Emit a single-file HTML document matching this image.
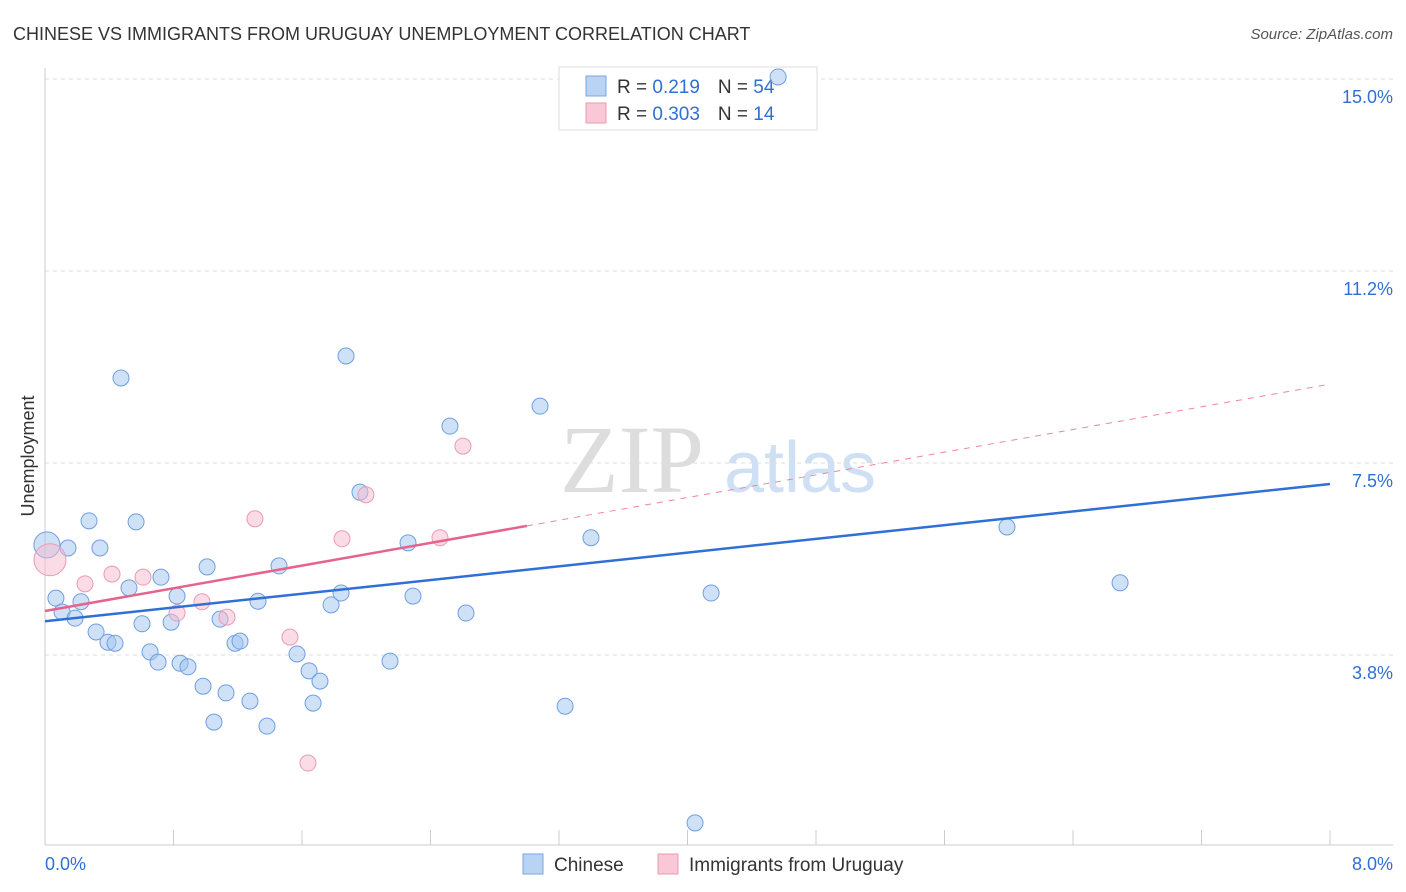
<!DOCTYPE html>
<html><head><meta charset="utf-8"><style>
body{margin:0;background:#fff;font-family:"Liberation Sans",sans-serif;}
svg{display:block}
</style></head><body>
<svg width="1406" height="892" xmlns="http://www.w3.org/2000/svg">
<text x="13" y="40" font-size="18" fill="#333">CHINESE VS IMMIGRANTS FROM URUGUAY UNEMPLOYMENT CORRELATION CHART</text>
<text x="1393" y="39" font-size="15" fill="#555" font-style="italic" text-anchor="end">Source: ZipAtlas.com</text>
<g><text x="632" y="492" font-size="96" fill="#ddd" font-family="Liberation Serif,serif" text-anchor="middle">ZIP</text><text x="800" y="492" font-size="72" fill="#cfe0f5" text-anchor="middle">atlas</text></g>
<g id="grid"></g>
<g id="axes"></g>
<g>
<rect x="559" y="67" width="258" height="63" fill="#fff" stroke="#ddd"/>
<rect x="586" y="76" width="20" height="20" fill="#b9d3f5" stroke="#7aa4e0"/>
<rect x="586" y="103" width="20" height="20" fill="#f9c7d6" stroke="#e99ab2"/>
<text x="617" y="93" font-size="19" fill="#333">R = <tspan fill="#2f6fd6"> 0.219</tspan><tspan dx="18">N = </tspan><tspan fill="#2f6fd6">54</tspan></text>
<text x="617" y="120" font-size="19" fill="#333">R = <tspan fill="#2f6fd6">0.303</tspan><tspan dx="18">N = </tspan><tspan fill="#2f6fd6"> 14</tspan></text>
</g>
<g id="marks"></g>
<text transform="translate(34,456) rotate(-90)" font-size="18" fill="#333" text-anchor="middle">Unemployment</text>
<g>
<rect x="523" y="854" width="20" height="20" fill="#b9d3f5" stroke="#7aa4e0"/>
<text x="554" y="871" font-size="19" fill="#333">Chinese</text>
<rect x="658" y="854" width="20" height="20" fill="#f9c7d6" stroke="#e99ab2"/>
<text x="689" y="871" font-size="19" fill="#333">Immigrants from Uruguay</text>
</g>
</svg>
<script>
const yTicks=[3.75,7.5,11.25,15];
const yTickLabels=["3.8%","7.5%","11.2%","15.0%"];
const xTicks=[0,0.8,1.6,2.4,3.2,4,4.8,5.6,6.4,7.2,8];
const chineseX=[0.012,0.143,0.068,0.106,0.187,0.224,0.274,0.342,0.318,0.392,0.436,0.473,0.523,0.567,0.604,0.654,0.704,0.722,0.785,0.822,0.841,0.890,0.984,1.009,1.052,1.090,1.127,1.183,1.214,1.276,1.326,1.382,1.457,1.569,1.644,1.669,1.712,1.781,1.843,1.874,1.961,2.148,2.260,2.291,2.521,2.621,3.082,3.238,3.399,4.047,4.147,5.989,6.693,4.564];
const chineseY=[5.90,5.84,4.86,4.59,4.47,4.79,6.37,5.84,4.20,4.00,3.98,9.16,5.06,6.35,4.36,3.81,3.61,5.27,4.39,4.90,3.59,3.52,3.14,5.47,2.44,4.45,3.01,3.98,4.02,2.85,4.80,2.36,5.49,3.77,3.44,2.81,3.24,4.73,4.96,9.59,6.93,3.63,5.94,4.90,8.22,4.57,8.61,2.75,6.04,0.47,4.96,6.25,5.16,15.04];
const uruguayX=[0.031,0.249,0.417,0.610,0.822,0.977,1.133,1.307,1.525,1.637,1.849,1.998,2.459,2.602];
const uruguayY=[5.61,5.14,5.33,5.27,4.57,4.79,4.49,6.41,4.10,1.64,6.02,6.88,6.04,7.83];
const chineseTrend=[4.41,7.09];
const uruguayTrend=[4.61,9.04];
const uruguaySolidEnd=3.0;

const NS="http://www.w3.org/2000/svg";
const xs=v=>45+v/8*1285;
const ys=v=>847-v*51.2;
function mk(parent,tag,attrs){const e=document.createElementNS(NS,tag);for(const k in attrs)e.setAttribute(k,attrs[k]);document.getElementById(parent).appendChild(e);return e;}
yTicks.forEach((t,i)=>{
 const l=mk('grid','line',{x1:45,x2:1393,y1:ys(t),y2:ys(t),stroke:'#ddd','stroke-dasharray':'4,4'});
 
 
 const tx=mk('grid','text',{x:1393,y:ys(t)+24,'font-size':18,fill:'#2f6fd6','text-anchor':'end'});
 tx.textContent=yTickLabels[i];
 
 
});
let a=mk('axes','line',{x1:45,x2:45,y1:68,y2:845,stroke:'#ccc'});


a=mk('axes','line',{x1:45,x2:1393,y1:845,y2:845,stroke:'#ccc'});


xTicks.forEach(t=>{const l=mk('axes','line',{x1:xs(t),x2:xs(t),y1:830,y2:845,stroke:'#ccc'});
 
 });
let t=mk('axes','text',{x:45,y:870,'font-size':18,fill:'#2f6fd6'});t.textContent='0.0%';


t=mk('axes','text',{x:1393,y:870,'font-size':18,fill:'#2f6fd6','text-anchor':'end'});t.textContent='8.0%';



chineseX.forEach((x,i)=>{const c=mk('marks','circle',{cx:xs(x),cy:ys(chineseY[i]),r:i==0?13:8,fill:'rgba(160,195,240,0.5)',stroke:'#6f9fe0','stroke-width':1});
 
 });
uruguayX.forEach((x,i)=>{const c=mk('marks','circle',{cx:xs(x),cy:ys(uruguayY[i]),r:i==0?16:8,fill:'rgba(248,185,205,0.5)',stroke:'#eb9ab4','stroke-width':1});
 
 });
const uAt=x=>uruguayTrend[0]+(uruguayTrend[1]-uruguayTrend[0])*x/8;
let l=mk('marks','line',{x1:xs(uruguaySolidEnd),y1:ys(uAt(uruguaySolidEnd)),x2:xs(8),y2:ys(uruguayTrend[1]),stroke:'#e8889f','stroke-width':1,'stroke-dasharray':'6,6'});


l=mk('marks','line',{x1:xs(0),y1:ys(uruguayTrend[0]),x2:xs(uruguaySolidEnd),y2:ys(uAt(uruguaySolidEnd)),stroke:'#e4648c','stroke-width':2.5});


l=mk('marks','line',{x1:xs(0),y1:ys(chineseTrend[0]),x2:xs(8),y2:ys(chineseTrend[1]),stroke:'#2f6fd6','stroke-width':2.5});


</script>
</body></html>
